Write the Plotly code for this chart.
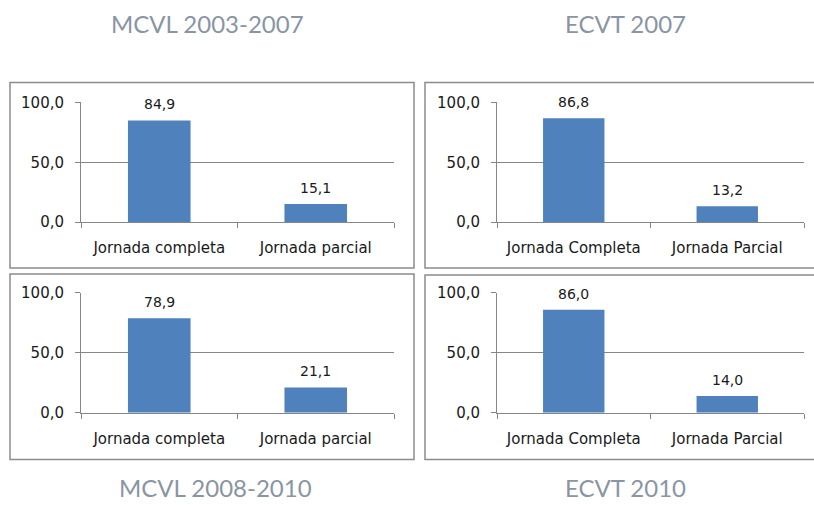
import plotly.graph_objects as go

W, H = 814, 505

# ---- data ----
titles = ["MCVL 2003-2007", "ECVT 2007", "MCVL 2008-2010", "ECVT 2010"]
cats_mcvl = ["Jornada completa", "Jornada parcial"]
cats_ecvt = ["Jornada Completa", "Jornada Parcial"]
vals_mcvl_0307 = [84.9, 15.1]
vals_ecvt_2007 = [86.8, 13.2]
vals_mcvl_0810 = [78.9, 21.1]
vals_ecvt_2010 = [86.0, 14.0]
y_ticks = [0, 50, 100]

panels = [
    (cats_mcvl, vals_mcvl_0307),
    (cats_ecvt, vals_ecvt_2007),
    (cats_mcvl, vals_mcvl_0810),
    (cats_ecvt, vals_ecvt_2010),
]

# pixel layout helpers (vertical positions compensated for the page capture)
def px(x):
    return x / W

def py(y):
    yf = (y - 8.4) / 0.9665
    return 1 - yf / H

# plot areas in pixels: (x0, x1, ytop, ybottom)
areas = [
    (81, 394, 102, 222),
    (497, 804, 102, 222),
    (81, 394, 293, 413),
    (497, 804, 293, 413),
]
# frame boxes in pixels: (x0, x1, ytop, ybottom)
boxes = [
    (10, 414, 82, 268),
    (425, 815, 82, 268),
    (10, 414, 274, 460),
    (425, 815, 275, 460),
]
title_pos = [(207, 23), (625, 23), (215, 488), (625, 488)]

BAR = "#4F81BD"
GRID = "#868686"
TXT = "#1a1a1a"
TFONT = "DejaVu Sans"

fig = go.Figure()
layout = dict(
    width=W, height=H, autosize=False,
    margin=dict(l=0, r=0, t=0, b=0),
    paper_bgcolor="white", plot_bgcolor="white",
    separators=",.",
    showlegend=False,
    shapes=[], annotations=[],
)

for i, ((cats, vals), (x0, x1, yt, yb)) in enumerate(zip(panels, areas)):
    n = "" if i == 0 else str(i + 1)
    fig.add_trace(go.Bar(
        x=cats, y=vals, marker=dict(color=BAR, line=dict(width=0)),
        width=0.4, xaxis="x" + n, yaxis="y" + n, hoverinfo="skip",
    ))
    layout["xaxis" + n] = dict(
        domain=[px(x0), px(x1)], anchor="y" + n,
        type="category", tickson="boundaries",
        ticks="outside", ticklen=5, tickcolor=GRID, tickwidth=1,
        showline=True, linecolor=GRID, linewidth=1,
        showgrid=False, zeroline=False,
        tickfont=dict(family=TFONT, size=15, color=TXT),
        ticklabelstandoff=12, fixedrange=True,
    )
    layout["yaxis" + n] = dict(
        domain=[py(yb), py(yt)], anchor="x" + n,
        range=[0, 100], tickvals=y_ticks, tickformat=".1f",
        ticks="outside", ticklen=5, tickcolor=GRID, tickwidth=1,
        showline=True, linecolor=GRID, linewidth=1,
        showgrid=True, gridcolor=GRID, gridwidth=1, zeroline=False,
        tickfont=dict(family=TFONT, size=15, color=TXT),
        ticklabelstandoff=8, fixedrange=True,
    )
    for c, v in zip(cats, vals):
        layout["annotations"].append(dict(
            x=c, y=v, xref="x" + n, yref="y" + n,
            text=f"{v:.1f}".replace(".", ","), showarrow=False,
            yanchor="bottom", yshift=6,
            font=dict(family=TFONT, size=14, color=TXT),
        ))
    bx0, bx1, byt, byb = boxes[i]
    layout["shapes"].append(dict(
        type="rect", xref="paper", yref="paper",
        x0=px(bx0), x1=px(bx1), y0=py(byb), y1=py(byt),
        line=dict(color="#8c8c8c", width=1.5), fillcolor="rgba(0,0,0,0)",
        layer="below",
    ))
    tx, ty = title_pos[i]
    layout["annotations"].append(dict(
        x=px(tx), y=py(ty), xref="paper", yref="paper",
        text=titles[i], showarrow=False, xanchor="center", yanchor="middle",
        font=dict(family="Lato, sans-serif", size=24, color="#8a95a4"),
    ))

fig.update_layout(**layout)

page_fix = (
    "var s=document.createElement('style');"
    "s.textContent='html,body{margin:0!important;padding:0!important;overflow:hidden;}';"
    "document.head.appendChild(s);"
)
fig.write_html(
    "out.html",
    config={"displayModeBar": False, "staticPlot": True},
    post_script=page_fix,
)
